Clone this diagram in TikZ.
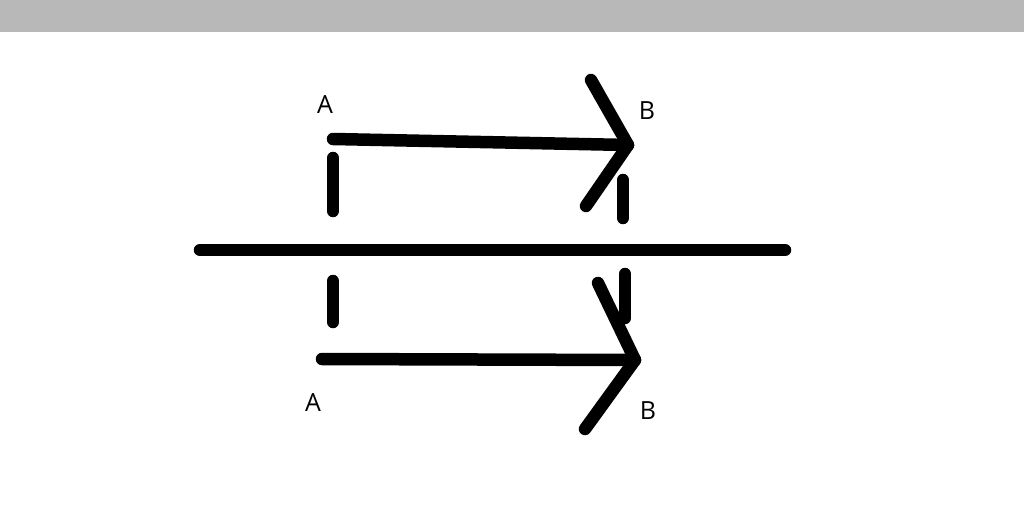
\documentclass[tikz,border=0pt]{standalone}
\usepackage{fontspec}
\setmainfont{Open Sans}
\usepackage{tikz}
\usetikzlibrary{positioning}

\begin{document}
\begin{tikzpicture}[x=1pt, y=-1pt,
      stroke/.style={line width=12.5pt, line cap=round, line join=round},
      lbl/.style={inner sep=0pt, font=\fontsize{25}{30}\selectfont}]
    \useasboundingbox (0,0) rectangle (1024,505);
    \fill[black!28] (0,0) rectangle (1024,32);

    % mirror line
    \coordinate (ml) at (200,250);
    \coordinate (mr) at (785,250);
    \draw[stroke] (ml) -- (mr);

    % upper arrow
    \coordinate (ua) at (333,139);
    \coordinate (ub) at (628,145);
    \coordinate (uht) at (591,80);
    \coordinate (uhb) at (586,206);
    \draw[stroke] (ua) -- (ub);
    \draw[stroke] (uht) -- (ub) -- (uhb);
    \node[lbl] (uA) at (325,105) {A};
    \node[lbl] (uB) at (647,111) {B};

    % lower arrow
    \coordinate (la) at (322,359);
    \coordinate (lb) at (635,360);
    \coordinate (lht) at (598,283);
    \coordinate (lhb) at (585,429);
    \draw[stroke] (la) -- (lb);
    \draw[stroke] (lht) -- (lb) -- (lhb);
    \node[lbl] (lA) at (313,403) {A};
    \node[lbl] (lB) at (648,411) {B};

    % dashes
    \draw[stroke] (333,158) -- (333,211);
    \draw[stroke] (623,180) -- (623,218);
    \draw[stroke] (333,281) -- (333,322);
    \draw[stroke] (625,274) -- (625,318);
\end{tikzpicture}
\end{document}
